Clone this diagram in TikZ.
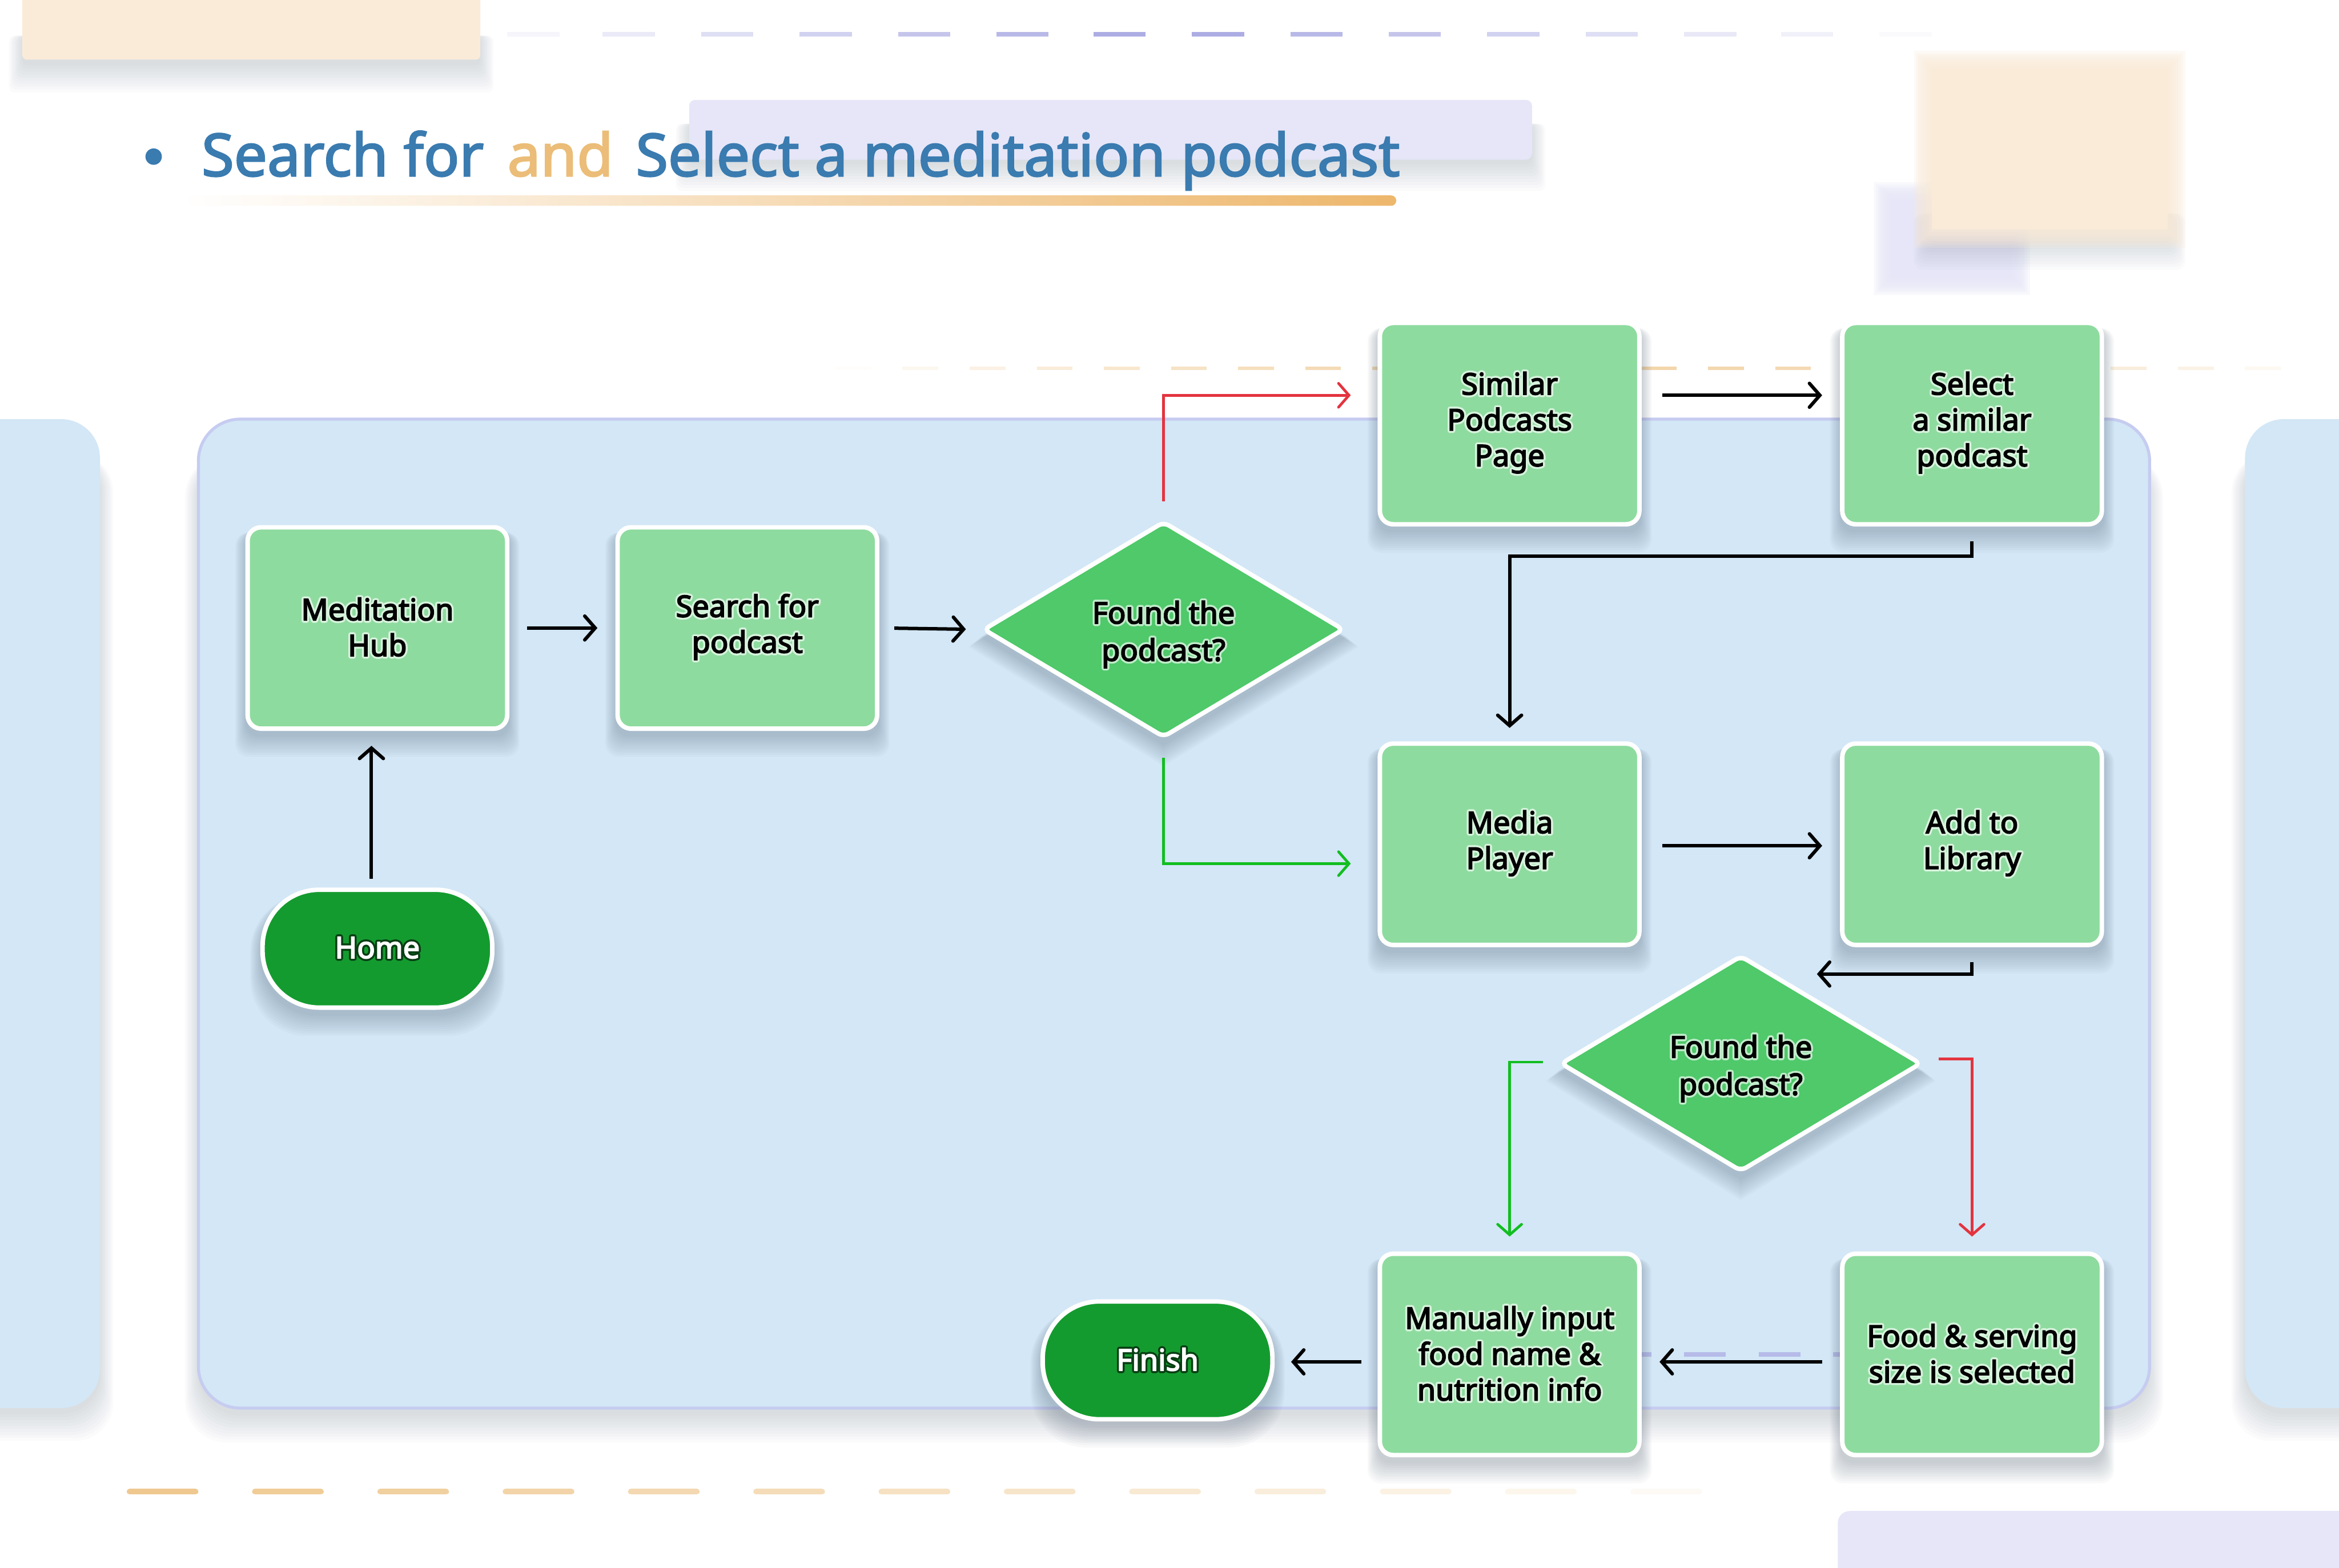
\documentclass[tikz,border=0pt]{standalone}
\usepackage{fontspec}
\setmainfont{Noto Sans}
\newfontfamily\labelfont{Noto Sans}[FakeBold=3.5]
\newfontfamily\titlefont{Noto Sans}[FakeBold=2.5]
\usepackage[copies]{contour}
\contourlength{1.3pt}
\usetikzlibrary{arrows.meta,shapes.geometric,calc}
\definecolor{boxgreen}{HTML}{8EDB9F}
\definecolor{diagreen}{HTML}{4FC96A}
\definecolor{termgreen}{HTML}{149B2F}
\definecolor{panelblue}{HTML}{D3E7F6}
\definecolor{panelline}{HTML}{C6CCF0}
\definecolor{titleblue}{HTML}{3A7BB0}
\definecolor{andorange}{HTML}{EBBD78}
\definecolor{peach}{HTML}{FAEBD8}
\definecolor{lavender}{HTML}{E6E6F8}
\definecolor{dashpurple}{HTML}{ADADE4}
\definecolor{dashorange}{HTML}{EFC88F}
\definecolor{arrred}{HTML}{E3343F}
\definecolor{arrgreen}{HTML}{12BE20}
\definecolor{shadowcol}{HTML}{4A5A70}
\newcommand\halobox[1]{\contour{boxgreen!35!white}{#1}}
\newcommand\halodia[1]{\contour{diagreen!35!white}{#1}}
\newcommand\haloterm[1]{\contour{termgreen!40!black}{#1}}
% soft shadow under a rectangular node: name, rounding
\newcommand\nodeshadow[2]{%
  \foreach \e in {0,1.5,...,13.6}{%
    \fill[shadowcol,opacity=0.03,rounded corners=#2] ($(#1.north west)+(-0.5*\e,5)$) rectangle ($(#1.south east)+(0.5*\e,4+\e)$);}}
% soft shadow under a diamond node
\newcommand\diashadow[1]{%
  \foreach \e in {0,1.5,...,13.6}{%
    \fill[shadowcol,opacity=0.03] ($(#1.north)+(0,5)$) -- ($(#1.east)+(0.6*\e,5+0.5*\e)$) -- ($(#1.south)+(0,4+\e)$) -- ($(#1.west)+(-0.6*\e,5+0.5*\e)$) -- cycle;}}
% soft shadow under a rectangle given by corners: x1,y1,x2,y2,rounding,offset
\newcommand\rectshadow[6]{%
  \foreach \e in {0,2,...,18}{%
    \fill[shadowcol,opacity=0.02,rounded corners=#5] ($(#1,#2)+(-0.5*\e,#6)$) rectangle ($(#3,#4)+(0.5*\e,#6+\e)$);}}
% blurry rectangle: x1,y1,x2,y2,colour
\newcommand\blurrect[5]{%
  \fill[#5] ($(#1,#2)+(6,6)$) rectangle ($(#3,#4)+(-6,-6)$);
  \foreach \e in {-6,-4.5,...,6}{%
    \fill[#5,opacity=0.22] ($(#1,#2)+(-\e,-\e)$) rectangle ($(#3,#4)+(\e,\e)$);}}
\pgfdeclarelayer{bg}
\pgfdeclarelayer{shadowlayer}
\pgfsetlayers{bg,shadowlayer,main}
\tikzset{
  box/.style={rectangle,rounded corners=9pt,fill=boxgreen,draw=white,line width=3pt,
    minimum width=174pt,minimum height=135pt,inner sep=0pt,align=center,
    font=\labelfont\fontsize{20}{24}\selectfont,text=black},
  dia/.style={diamond,rounded corners=4pt,fill=diagreen,draw=white,line width=3pt,
    minimum width=242pt,minimum height=145pt,shape aspect=1.67,inner sep=0pt},
  diatext/.style={inner sep=0pt,align=center,font=\labelfont\fontsize{20}{25}\selectfont,text=black},
  term/.style={rectangle,rounded corners=38pt,fill=termgreen,draw=white,line width=3pt,
    minimum width=154pt,minimum height=79pt,inner sep=0pt,align=center,
    font=\labelfont\fontsize{20}{24}\selectfont,text=white},
  titletext/.style={anchor=base west,inner sep=0pt,font=\titlefont\fontsize{39.5}{48}\selectfont},
  arr/.style={line width=2.3pt,black,-{Straight Barb[length=7pt,width=16pt,line cap=round]}},
  redarr/.style={line width=1.8pt,arrred,-{Straight Barb[length=7pt,width=16pt,line cap=round]}},
  greenarr/.style={line width=1.8pt,arrgreen,-{Straight Barb[length=7pt,width=16pt,line cap=round]}},
}
\begin{document}
\begin{tikzpicture}[x=1pt,y=-1pt]
\useasboundingbox (0,0) rectangle (1568,1051);
\begin{pgfonlayer}{bg}
\fill[white] (0,0) rectangle (1568,1051);
% ---------- background decorations ----------
\rectshadow{15}{20}{322}{40}{4pt}{4}
\fill[peach,rounded corners=3pt] (15,-10) rectangle (322,40);
\rectshadow{462}{80}{1027}{107}{4pt}{3}
\fill[lavender,rounded corners=4pt] (462,67) rectangle (1027,107);
\blurrect{1262}{128}{1355}{192}{lavender}
\rectshadow{1292}{140}{1456}{160}{6pt}{3}
\blurrect{1289}{40}{1459}{160}{peach}
\fill[lavender,rounded corners=8pt] (1232,1013) rectangle (1600,1080);
% top purple dashes
\foreach \x/\o in {340/0.12,404/0.25,470/0.4,536/0.55,602/0.7,668/0.85,733/1,799/1,865/0.85,931/0.7,997/0.55,1063/0.4,1129/0.28,1194/0.16,1260/0.05}
  \draw[dashpurple,opacity=\o,line width=3pt] (\x,23) -- ++(35,0);
% orange dashes near y 247
\foreach \x in {560,605,...,1530}{
  \pgfmathsetmacro\o{0.75*sin((\x-545)/1010*180)}
  \draw[dashorange,opacity=\o,line width=2.2pt] (\x,247) -- ++(24,0);
}
% bottom orange dashes
\foreach \x in {87,171,...,1130}{
  \pgfmathsetmacro\o{max(0.05,1-(\x-87)/1100)}
  \draw[dashorange,opacity=\o,line width=4pt,line cap=round] (\x,1000) -- ++(44,0);
}
% side strips
\rectshadow{-30}{300}{67}{944}{26pt}{4}
\fill[panelblue,rounded corners=26pt] (-30,281) rectangle (67,944);
\rectshadow{1505}{300}{1600}{944}{26pt}{4}
\fill[panelblue,rounded corners=26pt] (1505,281) rectangle (1600,944);
% main panel
\rectshadow{133}{300}{1441}{944}{28pt}{5}
\filldraw[fill=panelblue,draw=panelline,line width=2pt,rounded corners=28pt] (133,281) rectangle (1441,944);
% lavender dashes behind lower boxes
\foreach \x in {1079,1129,1179,1229}
  \draw[dashpurple,opacity=0.75,line width=3pt] (\x,908) -- ++(28,0);
% ---------- title ----------
\fill[titleblue] (103,105) circle (5.5);
\shade[left color=white,right color=andorange!90!orange,rounded corners=3.5pt] (120,131) rectangle (936,138);
\end{pgfonlayer}
\node[titletext,text=titleblue] (t1) at (135,118) {Search for};
\node[titletext,text=andorange] (t2) at (340,118) {and};
\node[titletext,text=titleblue] (t3) at (426,118) {Select a meditation podcast};
% ---------- nodes ----------
\node[box] (mh) at (253,421) {\halobox{Meditation}\\\halobox{Hub}};
\node[box] (sfp) at (501,421) {\halobox{Search for}\\\halobox{podcast}};
\node[dia] (d1) at (780,422) {};
\node[diatext] (d1t) at (780,426) {\halodia{Found the}\\\halodia{podcast?}};
\node[box] (sim) at (1012,284) {\halobox{Similar}\\\halobox{Podcasts}\\\halobox{Page}};
\node[box] (sel) at (1322,284) {\halobox{Select}\\\halobox{a similar}\\\halobox{podcast}};
\node[box] (mp) at (1012,566) {\halobox{Media}\\\halobox{Player}};
\node[box] (lib) at (1322,566) {\halobox{Add to}\\\halobox{Library}};
\node[dia] (d2) at (1167,713) {};
\node[diatext] (d2t) at (1167,717) {\halodia{Found the}\\\halodia{podcast?}};
\node[box] (man) at (1012,908) {\halobox{Manually input}\\\halobox{food name \&}\\\halobox{nutrition info}};
\node[box] (food) at (1322,908) {\halobox{Food \& serving}\\\halobox{size is selected}};
\node[term] (home) at (253,636) {\haloterm{Home}};
\node[term] (fin) at (776,912) {\haloterm{Finish}};
% ---------- shadows ----------
\begin{pgfonlayer}{shadowlayer}
\foreach \n in {mh,sfp,sim,sel,mp,lib,man,food}{\nodeshadow{\n}{9pt}}
\foreach \n in {home,fin}{\nodeshadow{\n}{38pt}}
\diashadow{d1}
\diashadow{d2}
\end{pgfonlayer}
% ---------- connectors ----------
\draw[arr,shorten <=12pt,shorten >=12pt] (mh.east) -- (sfp.west);
\draw[arr,shorten <=10pt,shorten >=10pt] (sfp.east) -- (d1.west);
\draw[arr] ([xshift=-4pt,yshift=6pt]home.north) -- ([xshift=-4pt,yshift=-10pt]mh.south);
\draw[redarr] ([yshift=12pt]d1.north) |- ([xshift=-18pt,yshift=19pt]sim.west);
\draw[greenarr] ([yshift=-12pt]d1.south) |- ([xshift=-18pt,yshift=-13pt]mp.west);
\draw[arr] ([xshift=14pt,yshift=19pt]sim.east) -- ([xshift=-12pt,yshift=19pt]sel.west);
\draw[arr] ([yshift=-10pt]sel.south) -- ++(0,10) -| ([yshift=9pt]mp.north);
\draw[arr] ([xshift=14pt,yshift=-1pt]mp.east) -- ([xshift=-12pt,yshift=-1pt]lib.west);
\draw[arr] ([yshift=-10pt]lib.south) |- ([xshift=51pt,yshift=-14pt]d2.north);
\draw[greenarr] ([xshift=-10pt,yshift=1pt]d2.west) -| ([yshift=10pt]man.north);
\draw[redarr] ([xshift=10pt,yshift=3pt]d2.east) -| ([yshift=10pt]food.north);
\draw[arr] ([xshift=-12pt,yshift=-5pt]food.west) -- ([xshift=12pt,yshift=-5pt]man.east);
\draw[arr] ([xshift=-11pt,yshift=-5pt]man.west) -- ([xshift=11pt,yshift=-1pt]fin.east);
\end{tikzpicture}
\end{document}
